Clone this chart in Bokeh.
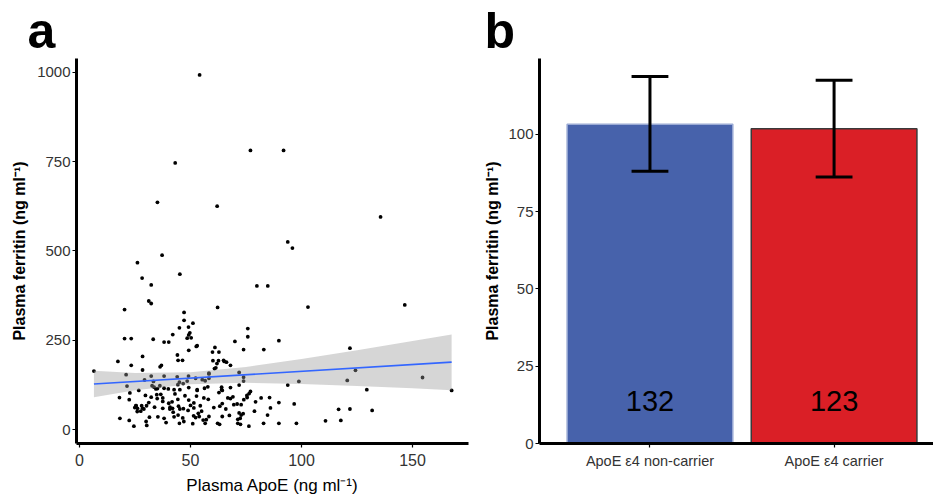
from bokeh.plotting import figure
from bokeh.layouts import row
from bokeh.models import FixedTicker, Range1d, ColumnDataSource
from bokeh.embed import file_html
from bokeh.resources import INLINE
from bokeh.core.properties import value

# ---------------- data: panel a ----------------
apoe = [54.1, 77.0, 91.9, 43.1, 35.1, 62.0, 135.6, 93.8, 95.9, 37.2, 26.1, 28.2, 45.2, 32.3, 79.9, 84.8,
        31.2, 32.3, 102.9, 62.2, 146.5, 20.3, 47.1, 47.1, 51.1, 49.1, 45.0, 75.8, 49.7, 42.0, 49.2, 48.5,
        50.3, 20.3, 23.3, 33.2, 75.8, 38.1, 40.2, 70.0, 89.8, 53.0, 52.6, 61.0, 121.8, 62.8, 49.2, 73.9,
        83.0, 59.9, 44.1, 17.3, 28.4, 44.4, 46.4, 60.1, 62.6, 65.2, 64.9, 66.2, 61.9, 68.0, 36.9, 36.3,
        23.3, 61.4, 60.8, 6.5, 28.4, 71.9, 58.3, 21.0, 154.5, 124.3, 120.6, 32.3, 38.1, 44.0, 49.1, 55.3,
        73.9, 73.9, 56.6, 98.8, 29.3, 33.3, 21.4, 26.7, 18.0, 22.7, 32.7, 34.4, 36.2, 38.1, 40.0, 42.6,
        44.3, 45.2, 48.5, 46.7, 53.0, 56.3, 57.8, 64.0, 64.0, 68.0, 71.9, 62.8, 77.0, 76.4, 75.4, 85.6,
        129.4, 167.6, 93.8, 29.7, 32.3, 34.8, 36.6, 37.5, 37.5, 35.0, 31.2, 30.2, 25.5, 28.0, 24.9, 26.0,
        27.6, 29.0, 33.8, 37.5, 40.2, 41.7, 44.3, 49.2, 51.5, 44.6, 40.8, 40.7, 42.2, 45.2, 46.8, 48.9,
        50.0, 51.5, 54.4, 52.7, 58.0, 53.5, 56.0, 63.2, 64.3, 65.9, 66.8, 68.0, 69.1, 69.5, 71.0, 72.8,
        74.0, 75.5, 79.3, 81.8, 86.0, 89.8, 96.7, 73.7, 71.9, 72.4, 72.8, 84.7, 78.8, 116.7, 121.8, 131.8,
        89.8, 97.7, 110.8, 117.7, 82.9, 76.3, 18.2, 22.4, 24.5, 30.0, 30.3, 31.5, 35.3, 39.0, 42.6, 45.0,
        46.5, 47.0, 44.4, 51.4, 52.3, 53.9, 51.0, 55.7, 57.1, 58.3, 56.6, 62.2, 63.1, 64.3, 71.3, 71.3,
        72.5, 52.3, 58.3, 45.0, 53.0, 64.3, 49.2, 58.3, 22.4, 25.4, 26.1, 28.4, 38.1, 33.6, 35.1, 41.9,
        60.5, 67.5, 55.0, 47.5, 43.0]
ferritin = [992, 781, 781, 746, 636, 625, 595, 525, 508, 488, 467, 424, 435, 405, 402, 402,
            360, 353, 343, 342, 349, 336, 328, 306, 298, 287, 285, 283, 271, 266, 265, 256,
            257, 255, 255, 253, 260, 245, 245, 247, 249, 235, 233, 230, 228, 217, 222, 224,
            224, 217, 209, 191, 205, 194, 194, 193, 193, 191, 194, 189, 185, 180, 180, 176,
            180, 173, 171, 164, 167, 160, 158, 154, 146, 166, 138, 150, 150, 148, 150, 140,
            147, 136, 137, 135, 139, 135, 122, 110, 90, 103, 123, 114, 123, 116, 114, 112,
            126, 112, 136, 129, 112, 116, 120, 119, 112, 118, 125, 104, 107, 101, 96, 90,
            112, 110, 125, 96, 91, 98, 99, 89, 79, 87, 76, 67, 67, 67, 62, 51,
            52, 58, 63, 60, 74, 78, 85, 83, 75, 66, 63, 58, 49, 58, 59, 54,
            68, 61, 67, 94, 85, 46, 89, 66, 73, 58, 89, 87, 92, 70, 72, 70,
            84, 90, 78, 89, 61, 76, 72, 45, 47, 32, 41, 41, 52, 57, 58, 54,
            18, 18, 25, 26, 18, 10, 32, 26, 10, 23, 12, 35, 36, 20, 36, 18,
            33, 23, 41, 39, 34, 37, 17, 27, 28, 37, 18, 18, 15, 37, 29, 18,
            15, 144, 144, 133, 110, 110, 118, 156, 84, 67, 60, 60, 32, 119, 115, 60,
            62, 40, 52, 95, 100]

# regression fit line and its confidence band
fit_x = [6.5, 167.6]
fit_y = [127.7, 188.9]
band_x = [6.5, 25, 50, 75, 100, 125, 150, 167.6]
band_lower = [90.5, 110.5, 127, 131.5, 128, 122.5, 116, 110.5]
band_upper = [165, 158.5, 161, 175.5, 198, 222.5, 248, 266.5]

x_ticks_a = [0, 50, 100, 150]
y_ticks_a = [0, 250, 500, 750, 1000]

# ---------------- data: panel b ----------------
groups = ["ApoE \u03b54 non-carrier", "ApoE \u03b54 carrier"]
group_pos = [1, 2]
mean_ferritin = [103.2, 101.8]
err_low = [88.0, 86.2]
err_high = [118.7, 117.5]
group_n = ["132", "123"]
bar_fill = ["#4762AB", "#DA1F26"]
bar_line = ["#9AAAD4", "#3A3A3A"]
y_ticks_b = [0, 25, 50, 75, 100]

FONT = "Liberation Sans"
TICK_COLOR = "#333333"


def style_axes(p):
    for ax in p.axis:
        ax.axis_line_width = 3
        ax.axis_line_color = "black"
        ax.major_tick_line_color = "black"
        ax.major_tick_line_width = 1.2
        ax.major_tick_out = 4
        ax.major_tick_in = 0
        ax.minor_tick_line_color = None
        ax.major_label_text_font = FONT
        ax.major_label_text_color = TICK_COLOR
        ax.axis_label_text_font = FONT
        ax.axis_label_text_color = "black"
    p.grid.visible = False
    p.outline_line_color = None
    p.title.text_font = FONT
    p.title.text_font_size = "50px"
    p.title.text_font_style = "bold"
    p.title.text_color = "black"
    p.title.align = "left"
    p.title.standoff = 0


# ---------------- panel a ----------------
pa = figure(width=470, height=497, title="a",
            x_range=Range1d(-1.35, 175.2), y_range=Range1d(-38.5, 1038),
            output_backend="svg", toolbar_location=None,
            min_border_left=76, min_border_right=2, min_border_top=57, min_border_bottom=48)
style_axes(pa)
pa.title.offset = -49

pa.scatter(apoe, ferritin, size=3.8, color="black", line_color=None)
pa.varea(x=band_x, y1=band_lower, y2=band_upper, fill_color="#999999", fill_alpha=0.4)
pa.line(fit_x, fit_y, line_color="#3366FF", line_width=1.6)

pa.xaxis.ticker = FixedTicker(ticks=x_ticks_a)
pa.yaxis.ticker = FixedTicker(ticks=y_ticks_a)
pa.xaxis.major_label_text_font_size = "16px"
pa.yaxis.major_label_text_font_size = "15px"
pa.xaxis.major_label_standoff = 6
pa.yaxis.major_label_standoff = 2
pa.xaxis.axis_label = "Plasma ApoE (ng ml\u207b\u00b9)"
pa.xaxis.axis_label_text_font_size = "17px"
pa.xaxis.axis_label_text_font_style = "normal"
pa.xaxis.axis_label_standoff = 7
pa.yaxis.axis_label = "Plasma ferritin (ng ml\u207b\u00b9)"
pa.yaxis.axis_label_text_font_size = "16px"
pa.yaxis.axis_label_text_font_style = "bold"
pa.yaxis.axis_label_standoff = 6

# ---------------- panel b ----------------
pb = figure(width=463, height=497, title="b",
            x_range=Range1d(0.4, 2.54), y_range=Range1d(0, 124.5),
            output_backend="svg", toolbar_location=None,
            min_border_left=69, min_border_right=0, min_border_top=58, min_border_bottom=53)
style_axes(pb)
pb.title.offset = -55

src = ColumnDataSource(dict(x=group_pos, top=mean_ferritin, lo=err_low, hi=err_high,
                            n=group_n, fill=bar_fill, line=bar_line,
                            cap0=[g - 0.1 for g in group_pos], cap1=[g + 0.1 for g in group_pos],
                            ny=[13.6 for _ in group_pos]))
pb.vbar(x="x", top="top", bottom=0, width=0.9, source=src,
        fill_color="fill", line_color="line", line_width=1.5)
pb.segment(x0="x", y0="lo", x1="x", y1="hi", source=src, line_color="black", line_width=3)
pb.segment(x0="cap0", y0="lo", x1="cap1", y1="lo", source=src, line_color="black", line_width=3)
pb.segment(x0="cap0", y0="hi", x1="cap1", y1="hi", source=src, line_color="black", line_width=3)
pb.text(x="x", y="ny", text="n", source=src, text_align="center", text_baseline="middle",
        text_font=value(FONT), text_font_size="29px", text_color="black")

pb.xaxis.ticker = FixedTicker(ticks=group_pos)
pb.xaxis.major_label_overrides = {p: g for p, g in zip(group_pos, groups)}
pb.yaxis.ticker = FixedTicker(ticks=y_ticks_b)
pb.xaxis.major_label_text_font_size = "14.5px"
pb.yaxis.major_label_text_font_size = "15px"
pb.xaxis.major_label_standoff = 5
pb.yaxis.major_label_standoff = 2
pb.yaxis.axis_label = "Plasma ferritin (ng ml\u207b\u00b9)"
pb.yaxis.axis_label_text_font_size = "16px"
pb.yaxis.axis_label_text_font_style = "bold"
pb.yaxis.axis_label_standoff = 4

layout = row(pa, pb)
open("out.html", "w").write(file_html(layout, INLINE))
